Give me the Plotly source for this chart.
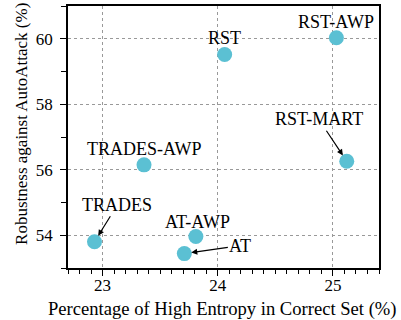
import plotly.graph_objects as go

methods = ["TRADES", "TRADES-AWP", "AT", "AT-AWP", "RST", "RST-AWP", "RST-MART"]
entropy_pct = [22.93, 23.36, 23.71, 23.81, 24.06, 25.03, 25.12]
robust_aa = [53.80, 56.15, 53.44, 53.96, 59.52, 60.03, 56.26]

x_ticks = [23, 24, 25]
y_ticks = [54, 56, 58, 60]

FONT = "Liberation Serif"
MARKER = "#5BC0D3"

label_style = {
    "TRADES": dict(showarrow=True, ax=23, ay=-37),
    "TRADES-AWP": dict(showarrow=False, yshift=16),
    "AT": dict(showarrow=True, ax=56, ay=-8),
    "AT-AWP": dict(showarrow=False, yshift=15, xshift=2),
    "RST": dict(showarrow=False, yshift=16),
    "RST-AWP": dict(showarrow=False, yshift=16),
    "RST-MART": dict(showarrow=True, ax=-28, ay=-42),
}

fig = go.Figure()
fig.add_trace(go.Scatter(
    x=entropy_pct, y=robust_aa, mode="markers",
    marker=dict(size=15, color=MARKER, line=dict(width=0)),
    showlegend=False, hoverinfo="skip",
))

for name, xv, yv in zip(methods, entropy_pct, robust_aa):
    st = label_style[name]
    ann = dict(x=xv, y=yv, xref="x", yref="y", text=name,
               font=dict(family=FONT, size=18, color="black"))
    if st["showarrow"]:
        ann.update(showarrow=True, ax=st["ax"], ay=st["ay"], axref="pixel", ayref="pixel",
                   arrowhead=2, arrowsize=1, arrowwidth=1.2, arrowcolor="black",
                   standoff=7, startstandoff=0)
    else:
        ann.update(showarrow=False, xshift=st.get("xshift", 0), yshift=st.get("yshift", 0))
    fig.add_annotation(**ann)

# axis titles as annotations for exact placement
fig.add_annotation(
    text="Robustness against AutoAttack (%)", textangle=-90,
    xref="paper", yref="paper", x=0, y=0.55, xshift=-46,
    xanchor="center", yanchor="middle", showarrow=False,
    font=dict(family=FONT, size=17, color="black"),
)
fig.add_annotation(
    text="Percentage of High Entropy in Correct Set (%)",
    xref="paper", yref="paper", x=0.5, y=0, yshift=-41, xshift=-1,
    xanchor="center", yanchor="middle", showarrow=False,
    font=dict(family=FONT, size=18.6, color="black"),
)

axis_common = dict(
    showline=True, linecolor="black", linewidth=1.5, mirror=True,
    showgrid=True, gridcolor="#999999", griddash="dot", gridwidth=1,
    zeroline=False, ticks="outside", ticklen=6, tickwidth=1.2, tickcolor="black",
    tickfont=dict(family=FONT, size=17, color="black"),
    automargin=False,
)

fig.update_xaxes(
    range=[22.7, 25.4], tickvals=x_ticks, ticktext=[str(v) for v in x_ticks],
    minor=dict(dtick=0.1, ticks="outside", ticklen=4, tickwidth=1, tickcolor="black", showgrid=False),
    ticklabelstandoff=-5,
    **axis_common,
)
fig.update_yaxes(
    range=[53, 61], tickvals=y_ticks, ticktext=[str(v) for v in y_ticks],
    minor=dict(dtick=1, ticks="outside", ticklen=5, tickwidth=1, tickcolor="black", showgrid=False),
    ticklabelstandoff=4,
    **axis_common,
)

fig.update_layout(
    width=401, height=320,
    margin=dict(l=68, r=22, t=6, b=52, autoexpand=False),
    paper_bgcolor="white", plot_bgcolor="white",
    font=dict(family=FONT, color="black"),
)

fig.write_html("out.html")
